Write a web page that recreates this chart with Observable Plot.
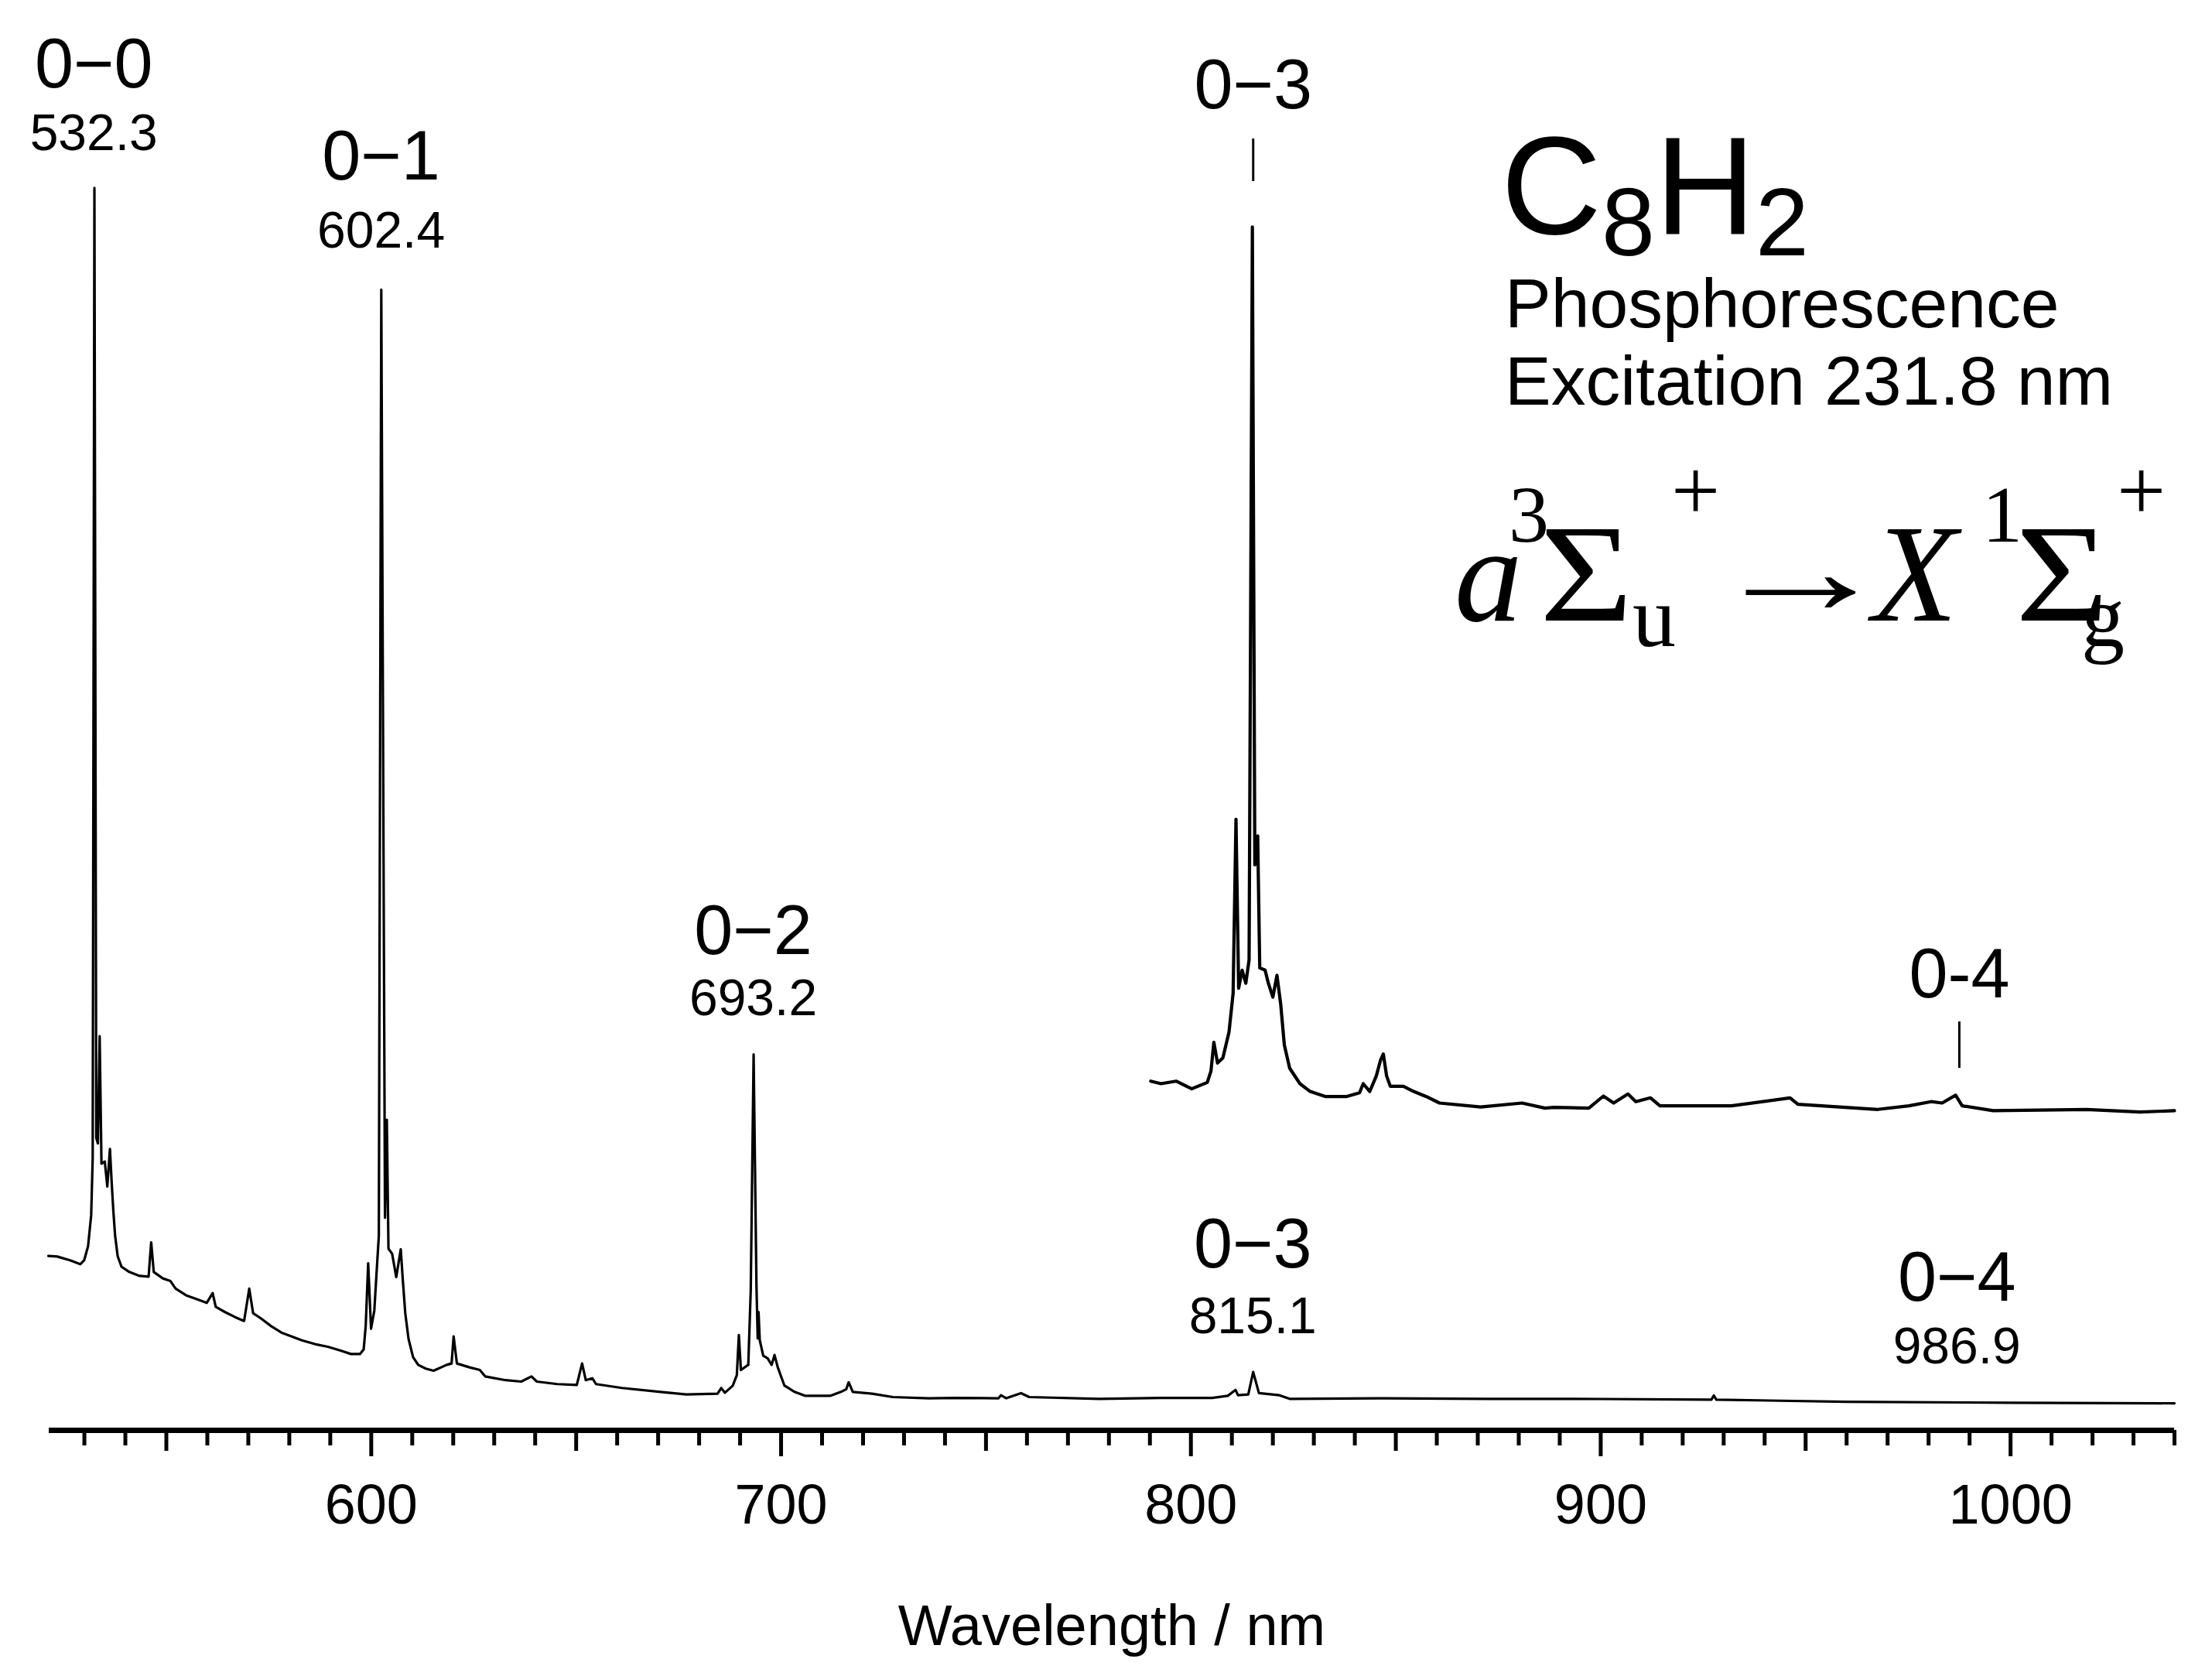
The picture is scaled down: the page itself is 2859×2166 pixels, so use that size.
<!DOCTYPE html>
<html>
<head>
<meta charset="utf-8">
<script src="https://cdn.jsdelivr.net/npm/d3@7"></script>
<script src="https://cdn.jsdelivr.net/npm/@observablehq/plot@0.6"></script>
<style>
  html, body { margin: 0; padding: 0; background: #fff; }
  #chart { width: 2859px; height: 2166px; }
</style>
</head>
<body>
<div id="chart"></div>
<script>
// ---- Main phosphorescence trace (wavelength nm, intensity arb. units) ----
const mainWavelength = [521.2, 523.35, 526.5, 529.0, 529.95, 530.9, 531.66, 532.03, 532.45, 532.9,
  533.3, 533.73, 534.17, 534.98, 535.6, 536.24, 536.68, 537.06, 537.5, 538.13,
  539.07, 540.96, 543.47, 545.67, 546.3, 546.93, 549.13, 551.0, 552.27, 554.8,
  557.3, 559.85, 561.3, 562.05, 564.25, 566.77, 568.97, 570.23, 571.17, 573.05,
  575.57, 578.08, 580.6, 583.1, 586.26, 589.4, 592.55, 595.05, 597.25, 598.15,
  598.65, 599.25, 599.95, 600.75, 601.35, 601.85, 602.45, 603.35, 603.8, 604.2,
  605.1, 606.1, 607.2, 607.7, 608.3, 609.1, 610.2, 611.45, 613.3, 615.2,
  618.4, 619.6, 620.1, 620.9, 624.0, 626.5, 627.8, 632.8, 636.6, 639.1,
  640.4, 645.4, 650.15, 651.45, 652.35, 653.95, 654.85, 661.15, 670.6, 676.9,
  684.5, 685.4, 686.3, 688.2, 689.2, 689.7, 690.2, 692.0, 692.6, 693.3,
  694.0, 694.3, 694.5, 694.8, 695.65, 696.7, 697.7, 698.4, 699.2, 700.8,
  703.3, 705.8, 712.1, 714.6, 715.9, 716.5, 717.5, 722.2, 727.25, 736.05,
  742.35, 753.05, 753.65, 754.95, 758.55, 760.55, 777.6, 792.7, 805.2, 809.0,
  810.9, 811.5, 814.0, 815.2, 816.6, 821.6, 824.1, 847.45, 872.0, 900,
  927.0, 927.6, 928.2, 960, 1000, 1040];
const mainIntensity = [12.52, 12.48, 12.21, 11.93, 12.21, 13.22, 15.45, 19.52, 89.2, 21.0,
  20.6, 28.3, 19.15, 19.3, 17.5, 20.2, 17.7, 15.8, 13.97, 12.5,
  11.74, 11.37, 11.09, 11.04, 13.5, 11.37, 10.91, 10.72, 10.17, 9.7,
  9.43, 9.15, 9.85, 8.87, 8.5, 8.13, 7.85, 10.17, 8.41, 8.04,
  7.48, 7.02, 6.74, 6.46, 6.19, 6.0, 5.72, 5.48, 5.48, 5.8,
  7.5, 12.0, 7.3, 8.6, 11.56, 13.97, 81.9, 15.26, 22.3, 13.04,
  12.67, 11.0, 13.0, 10.8, 8.41, 6.56, 5.26, 4.7, 4.43, 4.28,
  4.7, 4.8, 6.74, 4.8, 4.52, 4.33, 3.87, 3.6, 3.5, 3.87,
  3.5, 3.32, 3.26, 4.8, 3.6, 3.74, 3.32, 3.04, 2.76, 2.58,
  2.63, 3.04, 2.7, 3.2, 3.96, 6.84, 4.33, 4.7, 10.07, 27.0,
  10.3, 6.6, 8.5, 6.47, 5.35, 5.17, 4.7, 5.41, 4.52, 3.22,
  2.76, 2.48, 2.48, 2.76, 2.95, 3.45, 2.76, 2.63, 2.39, 2.3,
  2.33, 2.3, 2.52, 2.3, 2.67, 2.39, 2.26, 2.33, 2.33, 2.48,
  2.9, 2.52, 2.58, 4.19, 2.67, 2.52, 2.26, 2.3, 2.26, 2.25,
  2.2, 2.5, 2.2, 2.05, 1.98, 1.94];

// ---- Magnified, offset trace (790–1040 nm) ----
const insetWavelength = [790.2, 792.7, 796.4, 800.2, 804.0, 804.9, 805.6, 806.5, 807.8, 809.3,
  810.3, 811.0, 811.65, 812.5, 813.4, 814.2, 815.0, 815.6, 816.3, 816.8,
  818.1, 818.9, 820.0, 821.0, 821.9, 822.8, 824.1, 826.6, 829.1, 832.9,
  837.9, 841.15, 842.05, 843.65, 845.25, 846.25, 846.95, 847.75, 848.65, 851.85,
  854.35, 857.45, 860.65, 870.7, 880.8, 886.4, 888.5, 897.1, 900.65, 903.15,
  906.65, 908.55, 912.15, 914.45, 931.9, 946.2, 948.1, 967.6, 975.2, 980.6,
  983.3, 986.6, 988.2, 995.75, 1018.6, 1031.6, 1040];
const insetIntensity = [25.07, 24.89, 25.07, 24.52, 24.98, 25.8, 27.85, 26.37, 26.74, 28.6,
  31.37, 43.87, 31.74, 33.04, 32.1, 33.78, 86.4, 40.6, 42.67, 33.2,
  33.04, 32.1, 31.1, 32.67, 30.63, 27.67, 26.0, 24.89, 24.33, 23.96,
  23.96, 24.24, 24.89, 24.33, 25.45, 26.56, 27.02, 25.45, 24.7, 24.7,
  24.33, 23.96, 23.5, 23.22, 23.5, 23.13, 23.19, 23.13, 24.0, 23.5,
  24.15, 23.6, 23.87, 23.3, 23.3, 23.87, 23.41, 23.04, 23.3, 23.6,
  23.5, 24.06, 23.3, 22.95, 23.04, 22.85, 22.95];

// ---- Band labels ----
const bandNames = ["0\u22120", "0\u22121", "0\u22122", "0\u22123", "0\u22124"];
const bandValues = ["532.3", "602.4", "693.2", "815.1", "986.9"];
const bandWavelengths = [532.3, 602.4, 693.2, 815.1, 986.9];
const bandNameY = [96.44, 89.78, 34.17, 11.72, 9.28];
const bandValueY = [91.94, 84.89, 29.78, 7.0, 4.83];

// ---- Labels on the magnified trace ----
const insetNames = ["0\u22123", "0-4"];
const insetLabelWavelengths = [815.2, 987.5];
const insetNameY = [94.94, 31.11];
const insetMarkTop = [92.72, 29.33];
const insetMarkBottom = [89.67, 26.0];

// ---- Axis ticks ----
const xTicksMajor = [600, 700, 800, 900, 1000];
const xTicksMedium = [550, 650, 750, 850, 950];
const xTicksMinor = [530, 540, 560, 570, 580, 590, 610, 620, 630, 640, 660, 670, 680, 690,
  710, 720, 730, 740, 760, 770, 780, 790, 810, 820, 830, 840, 860, 870, 880, 890,
  910, 920, 930, 940, 960, 970, 980, 990, 1010, 1020, 1030, 1040];

// ---- Tables built from the arrays ----
const mainData = mainWavelength.map((w, i) => ({w, v: mainIntensity[i]}));
const insetData = insetWavelength.map((w, i) => ({w, v: insetIntensity[i]}));
const bandData = bandNames.map((n, i) => ({name: n, value: bandValues[i], w: bandWavelengths[i], ny: bandNameY[i], vy: bandValueY[i]}));
const insetLabelData = insetNames.map((n, i) => ({name: n, w: insetLabelWavelengths[i], ny: insetNameY[i], y1: insetMarkBottom[i], y2: insetMarkTop[i]}));

const sans = "'Liberation Sans', Arial, Helvetica, sans-serif";
const serif = "'Liberation Serif', 'Times New Roman', serif";

const chart = Plot.plot({
  width: 2859,
  height: 2166,
  marginLeft: 63,
  marginRight: 49,
  marginTop: 48,
  marginBottom: 318,
  x: {domain: [521.4, 1040], label: null},
  y: {domain: [0, 100], axis: null, label: null},
  style: {background: "white", fontFamily: sans, color: "black", overflow: "visible"},
  marks: [
    Plot.line(mainData, {x: "w", y: "v", stroke: "black", strokeWidth: 3.2, strokeLinejoin: "round"}),
    Plot.line(insetData, {x: "w", y: "v", stroke: "black", strokeWidth: 4.2, strokeLinejoin: "round"}),
    Plot.ruleY([0], {stroke: "black", strokeWidth: 7}),
    Plot.axisX({ticks: xTicksMinor, tickSize: 20, tickFormat: () => "", label: null, strokeWidth: 5}),
    Plot.axisX({ticks: xTicksMedium, tickSize: 27, tickFormat: () => "", label: null, strokeWidth: 5}),
    Plot.axisX({ticks: xTicksMajor, tickSize: 34, tickPadding: 35, tickFormat: d => String(d), label: null, strokeWidth: 5, fontSize: 72}),
    Plot.text(["Wavelength / nm"], {frameAnchor: "bottom", dy: 277, lineAnchor: "bottom", fontSize: 74, fill: "black"}),
    Plot.text(bandData, {x: "w", y: "ny", text: "name", lineAnchor: "bottom", fontSize: 90, fill: "black"}),
    Plot.text(bandData, {x: "w", y: "vy", text: "value", lineAnchor: "bottom", fontSize: 66, fill: "black"}),
    Plot.text(insetLabelData, {x: "w", y: "ny", text: "name", lineAnchor: "bottom", fontSize: 90, fill: "black"}),
    Plot.ruleX(insetLabelData, {x: "w", y1: "y1", y2: "y2", stroke: "black", strokeWidth: 3})
  ]
});

document.getElementById("chart").appendChild(chart);

// ---- Title block (formula text with sub/superscripts) ----
const svg = d3.select(chart);
const title = svg.append("text").attr("font-family", sans).attr("fill", "black")
  .attr("text-anchor", "start").attr("x", 1940).attr("y", 302);
title.append("tspan").attr("font-size", 180).text("C");
title.append("tspan").attr("font-size", 124).attr("dy", 28).text("8");
title.append("tspan").attr("font-size", 180).attr("dy", -28).text("H");
title.append("tspan").attr("font-size", 124).attr("dy", 28).text("2");

svg.append("text").attr("font-family", sans).attr("font-size", 89.5).attr("fill", "black")
  .attr("text-anchor", "start").attr("x", 1945).attr("y", 423).text("Phosphorescence");
svg.append("text").attr("font-family", sans).attr("font-size", 89.5).attr("fill", "black")
  .attr("text-anchor", "start").attr("x", 1945).attr("y", 523).text("Excitation 231.8 nm");

const formulaParts = [
  {t: "a", x: 1880, y: 802, s: 175, italic: true, sx: 1},
  {t: "3", x: 1950, y: 700, s: 104, sx: 1},
  {t: "\u03A3", x: 1990, y: 802, s: 180, sx: 1.15},
  {t: "u", x: 2110, y: 835, s: 112, sx: 1},
  {t: "+", x: 2160, y: 672, s: 112, sx: 1},
  {t: "\u2192", x: 2208, y: 793, s: 165, sx: 1.45},
  {t: "X", x: 2420, y: 802, s: 180, italic: true, sx: 1},
  {t: "1", x: 2562, y: 700, s: 104, sx: 1},
  {t: "\u03A3", x: 2605, y: 802, s: 180, sx: 1.15},
  {t: "g", x: 2690, y: 835, s: 112, sx: 1},
  {t: "+", x: 2736, y: 672, s: 112, sx: 1}
];
formulaParts.forEach(p => {
  svg.append("text").attr("font-family", serif).attr("fill", "black")
    .attr("text-anchor", "start")
    .attr("transform", `translate(${p.x},${p.y}) scale(${p.sx},1)`)
    .attr("font-size", p.s)
    .attr("font-style", p.italic ? "italic" : "normal")
    .text(p.t);
});
</script>
</body>
</html>
